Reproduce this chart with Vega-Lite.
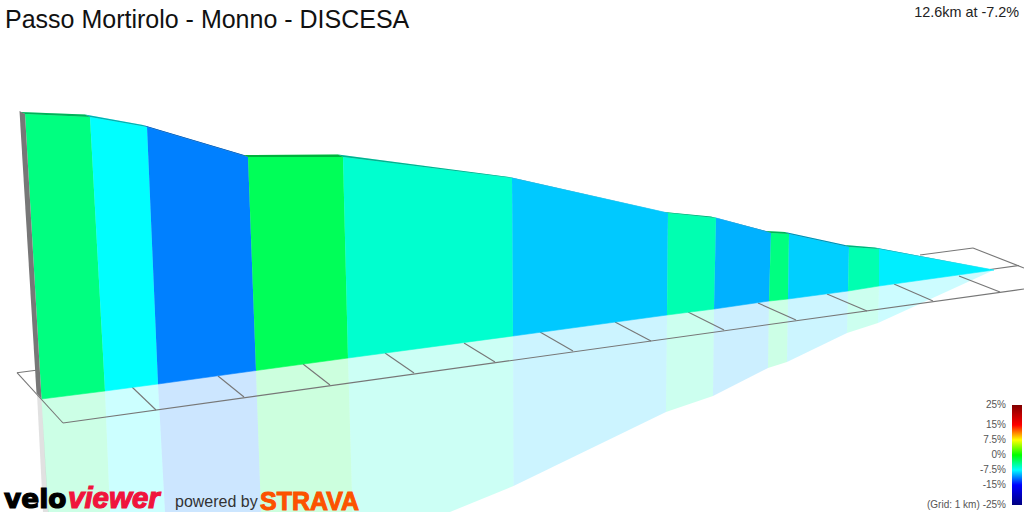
{"$schema":"https://vega.github.io/schema/vega-lite/v6.json","width":1024,"height":512,"padding":0,"autosize":{"type":"none"},"background":"white","view":{"stroke":null},
"title":{"text":"Passo Mortirolo - Monno - DISCESA","anchor":"start","frame":"group","offset":-33,"dx":5,"fontSize":25,"font":"Liberation Sans","fontWeight":"normal","color":"#111"},
"datasets":{
"wall":[
{"seg":0,"grade":-3.75,"i":0,"x":25,"y":114},{"seg":0,"grade":-3.75,"i":1,"x":90,"y":117},{"seg":0,"grade":-3.75,"i":2,"x":105,"y":391},{"seg":0,"grade":-3.75,"i":3,"x":41.5,"y":399},
{"seg":1,"grade":-7.5,"i":0,"x":90,"y":117},{"seg":1,"grade":-7.5,"i":1,"x":147,"y":127},{"seg":1,"grade":-7.5,"i":2,"x":158,"y":384},{"seg":1,"grade":-7.5,"i":3,"x":105,"y":391},
{"seg":2,"grade":-11.25,"i":0,"x":147,"y":127},{"seg":2,"grade":-11.25,"i":1,"x":248,"y":157},{"seg":2,"grade":-11.25,"i":2,"x":256,"y":370.5},{"seg":2,"grade":-11.25,"i":3,"x":158,"y":384},
{"seg":3,"grade":-2.6,"i":0,"x":248,"y":157},{"seg":3,"grade":-2.6,"i":1,"x":343,"y":157},{"seg":3,"grade":-2.6,"i":2,"x":348,"y":358},{"seg":3,"grade":-2.6,"i":3,"x":256,"y":370.5},
{"seg":4,"grade":-6.1,"i":0,"x":343,"y":157},{"seg":4,"grade":-6.1,"i":1,"x":512,"y":178},{"seg":4,"grade":-6.1,"i":2,"x":513,"y":336},{"seg":4,"grade":-6.1,"i":3,"x":348,"y":358},
{"seg":5,"grade":-9.1,"i":0,"x":512,"y":178},{"seg":5,"grade":-9.1,"i":1,"x":668,"y":213},{"seg":5,"grade":-9.1,"i":2,"x":667,"y":315},{"seg":5,"grade":-9.1,"i":3,"x":513,"y":336},
{"seg":6,"grade":-5.2,"i":0,"x":668,"y":213},{"seg":6,"grade":-5.2,"i":1,"x":716,"y":218},{"seg":6,"grade":-5.2,"i":2,"x":714,"y":309},{"seg":6,"grade":-5.2,"i":3,"x":667,"y":315},
{"seg":7,"grade":-9.8,"i":0,"x":716,"y":218},{"seg":7,"grade":-9.8,"i":1,"x":771,"y":233},{"seg":7,"grade":-9.8,"i":2,"x":769,"y":301},{"seg":7,"grade":-9.8,"i":3,"x":714,"y":309},
{"seg":8,"grade":-3.75,"i":0,"x":771,"y":233},{"seg":8,"grade":-3.75,"i":1,"x":789,"y":234},{"seg":8,"grade":-3.75,"i":2,"x":788,"y":299},{"seg":8,"grade":-3.75,"i":3,"x":769,"y":301},
{"seg":9,"grade":-8.9,"i":0,"x":789,"y":234},{"seg":9,"grade":-8.9,"i":1,"x":849,"y":247},{"seg":9,"grade":-8.9,"i":2,"x":848,"y":291},{"seg":9,"grade":-8.9,"i":3,"x":788,"y":299},
{"seg":10,"grade":-5.2,"i":0,"x":849,"y":247},{"seg":10,"grade":-5.2,"i":1,"x":879,"y":249},{"seg":10,"grade":-5.2,"i":2,"x":879,"y":286},{"seg":10,"grade":-5.2,"i":3,"x":848,"y":291},
{"seg":11,"grade":-8,"i":0,"x":879,"y":249},{"seg":11,"grade":-8,"i":1,"x":994,"y":270},{"seg":11,"grade":-8,"i":2,"x":879,"y":286}],
"strip":[
{"seg":0,"grade":-3.75,"i":0,"x":20,"y":112},{"seg":0,"grade":-3.75,"i":1,"x":85,"y":114.5},{"seg":0,"grade":-3.75,"i":2,"x":90,"y":117},{"seg":0,"grade":-3.75,"i":3,"x":25,"y":114},
{"seg":1,"grade":-7.5,"i":0,"x":85,"y":114.5},{"seg":1,"grade":-7.5,"i":1,"x":143,"y":125},{"seg":1,"grade":-7.5,"i":2,"x":147,"y":127},{"seg":1,"grade":-7.5,"i":3,"x":90,"y":117},
{"seg":2,"grade":-11.25,"i":0,"x":143,"y":125},{"seg":2,"grade":-11.25,"i":1,"x":244,"y":155},{"seg":2,"grade":-11.25,"i":2,"x":248,"y":157},{"seg":2,"grade":-11.25,"i":3,"x":147,"y":127},
{"seg":3,"grade":-2.6,"i":0,"x":244,"y":155},{"seg":3,"grade":-2.6,"i":1,"x":338,"y":154.5},{"seg":3,"grade":-2.6,"i":2,"x":343,"y":157},{"seg":3,"grade":-2.6,"i":3,"x":248,"y":157},
{"seg":4,"grade":-6.1,"i":0,"x":338,"y":154.5},{"seg":4,"grade":-6.1,"i":1,"x":509,"y":177},{"seg":4,"grade":-6.1,"i":2,"x":512,"y":178},{"seg":4,"grade":-6.1,"i":3,"x":343,"y":157},
{"seg":5,"grade":-9.1,"i":0,"x":509,"y":177},{"seg":5,"grade":-9.1,"i":1,"x":664,"y":212},{"seg":5,"grade":-9.1,"i":2,"x":668,"y":213},{"seg":5,"grade":-9.1,"i":3,"x":512,"y":178},
{"seg":6,"grade":-5.2,"i":0,"x":664,"y":212},{"seg":6,"grade":-5.2,"i":1,"x":711,"y":216.5},{"seg":6,"grade":-5.2,"i":2,"x":716,"y":218},{"seg":6,"grade":-5.2,"i":3,"x":668,"y":213},
{"seg":7,"grade":-9.8,"i":0,"x":711,"y":216.5},{"seg":7,"grade":-9.8,"i":1,"x":766,"y":231},{"seg":7,"grade":-9.8,"i":2,"x":771,"y":233},{"seg":7,"grade":-9.8,"i":3,"x":716,"y":218},
{"seg":8,"grade":-3.75,"i":0,"x":766,"y":231},{"seg":8,"grade":-3.75,"i":1,"x":785,"y":232},{"seg":8,"grade":-3.75,"i":2,"x":789,"y":234},{"seg":8,"grade":-3.75,"i":3,"x":771,"y":233},
{"seg":9,"grade":-8.9,"i":0,"x":785,"y":232},{"seg":9,"grade":-8.9,"i":1,"x":845,"y":245},{"seg":9,"grade":-8.9,"i":2,"x":849,"y":247},{"seg":9,"grade":-8.9,"i":3,"x":789,"y":234},
{"seg":10,"grade":-5.2,"i":0,"x":845,"y":245},{"seg":10,"grade":-5.2,"i":1,"x":875,"y":247.5},{"seg":10,"grade":-5.2,"i":2,"x":879,"y":249},{"seg":10,"grade":-5.2,"i":3,"x":849,"y":247},
{"seg":11,"grade":-8,"i":0,"x":875,"y":247.5},{"seg":11,"grade":-8,"i":1,"x":994,"y":270},{"seg":11,"grade":-8,"i":2,"x":879,"y":249}],
"shadow":[
{"seg":0,"grade":-3.75,"i":0,"x":41.5,"y":399},{"seg":0,"grade":-3.75,"i":1,"x":105,"y":391},{"seg":0,"grade":-3.75,"i":2,"x":110,"y":512},{"seg":0,"grade":-3.75,"i":3,"x":48,"y":512},
{"seg":1,"grade":-7.5,"i":0,"x":105,"y":391},{"seg":1,"grade":-7.5,"i":1,"x":158,"y":384},{"seg":1,"grade":-7.5,"i":2,"x":165,"y":512},{"seg":1,"grade":-7.5,"i":3,"x":110,"y":512},
{"seg":2,"grade":-11.25,"i":0,"x":158,"y":384},{"seg":2,"grade":-11.25,"i":1,"x":256,"y":370.5},{"seg":2,"grade":-11.25,"i":2,"x":261,"y":512},{"seg":2,"grade":-11.25,"i":3,"x":165,"y":512},
{"seg":3,"grade":-2.6,"i":0,"x":256,"y":370.5},{"seg":3,"grade":-2.6,"i":1,"x":348,"y":358},{"seg":3,"grade":-2.6,"i":2,"x":352.5,"y":512},{"seg":3,"grade":-2.6,"i":3,"x":261,"y":512},
{"seg":4,"grade":-6.1,"i":0,"x":348,"y":358},{"seg":4,"grade":-6.1,"i":1,"x":513,"y":336},{"seg":4,"grade":-6.1,"i":2,"x":513.5,"y":486},{"seg":4,"grade":-6.1,"i":3,"x":450,"y":512},{"seg":4,"grade":-6.1,"i":4,"x":352.5,"y":512},
{"seg":5,"grade":-9.1,"i":0,"x":513,"y":336},{"seg":5,"grade":-9.1,"i":1,"x":667,"y":315},{"seg":5,"grade":-9.1,"i":2,"x":666,"y":412},{"seg":5,"grade":-9.1,"i":3,"x":513.5,"y":486},
{"seg":6,"grade":-5.2,"i":0,"x":667,"y":315},{"seg":6,"grade":-5.2,"i":1,"x":714,"y":309},{"seg":6,"grade":-5.2,"i":2,"x":713,"y":396},{"seg":6,"grade":-5.2,"i":3,"x":666,"y":412},
{"seg":7,"grade":-9.8,"i":0,"x":714,"y":309},{"seg":7,"grade":-9.8,"i":1,"x":769,"y":301},{"seg":7,"grade":-9.8,"i":2,"x":768,"y":368},{"seg":7,"grade":-9.8,"i":3,"x":713,"y":396},
{"seg":8,"grade":-3.75,"i":0,"x":769,"y":301},{"seg":8,"grade":-3.75,"i":1,"x":788,"y":299},{"seg":8,"grade":-3.75,"i":2,"x":787,"y":362},{"seg":8,"grade":-3.75,"i":3,"x":768,"y":368},
{"seg":9,"grade":-8.9,"i":0,"x":788,"y":299},{"seg":9,"grade":-8.9,"i":1,"x":848,"y":291},{"seg":9,"grade":-8.9,"i":2,"x":847,"y":333},{"seg":9,"grade":-8.9,"i":3,"x":787,"y":362},
{"seg":10,"grade":-5.2,"i":0,"x":848,"y":291},{"seg":10,"grade":-5.2,"i":1,"x":879,"y":286},{"seg":10,"grade":-5.2,"i":2,"x":878,"y":323},{"seg":10,"grade":-5.2,"i":3,"x":847,"y":333},
{"seg":11,"grade":-8,"i":0,"x":879,"y":286},{"seg":11,"grade":-8,"i":1,"x":994,"y":270},{"seg":11,"grade":-8,"i":2,"x":878,"y":323}],
"grid":[
{"x":17,"y":372.7,"x2":63,"y2":423},{"x":17,"y":372.7,"x2":38,"y2":370},{"x":63,"y":423,"x2":1024,"y2":289},
{"x":132,"y":387,"x2":156,"y2":410},{"x":218,"y":376,"x2":244,"y2":397},{"x":303,"y":364,"x2":330,"y2":385},{"x":385,"y":353,"x2":414,"y2":373},{"x":464,"y":343,"x2":495,"y2":362},{"x":540,"y":332,"x2":573,"y2":351},{"x":615,"y":322,"x2":651,"y2":341},{"x":688,"y":312,"x2":724,"y2":330},{"x":758,"y":303,"x2":796,"y2":320},{"x":827,"y":294,"x2":867,"y2":311},{"x":894,"y":284,"x2":933,"y2":301},{"x":959,"y":276,"x2":1000,"y2":292},
{"x":920,"y":255,"x2":973,"y2":248},{"x":973,"y":248,"x2":1024,"y2":268},{"x":990,"y":269.5,"x2":1019,"y2":265.5}],
"edge":[
{"part":"side","i":0,"x":19.5,"y":111},{"part":"side","i":1,"x":25,"y":114},{"part":"side","i":2,"x":41.5,"y":399},{"part":"side","i":3,"x":36.5,"y":393}],
"edgeShadow":[
{"part":"side","i":0,"x":37,"y":394},{"part":"side","i":1,"x":41.5,"y":399},{"part":"side","i":2,"x":48.5,"y":512},{"part":"side","i":3,"x":43,"y":512}]
},
"encoding":{"x":{"field":"x","type":"quantitative","scale":{"domain":[0,1024],"nice":false,"zero":false},"axis":null},"y":{"field":"y","type":"quantitative","scale":{"domain":[512,0],"nice":false,"zero":false},"axis":null}},
"layer":[
{"data":{"name":"shadow"},"mark":{"type":"line","filled":true,"opacity":0.2,"clip":true},"encoding":{"detail":{"field":"seg"},"order":{"field":"i"},"color":{"field":"grade","type":"quantitative","scale":{"interpolate":"rgb","domain":[-25,-15,-7.5,0,7.5,15,25],"range":["#000080","#0000ff","#00ffff","#00ff00","#ffff00","#ff0000","#800000"]},"legend":null}}},
{"data":{"name":"edgeShadow"},"mark":{"type":"line","filled":true,"color":"#777777","opacity":0.22,"clip":true},"encoding":{"detail":{"field":"part"},"order":{"field":"i"}}},
{"data":{"name":"grid"},"mark":{"type":"rule","color":"#777777","strokeWidth":1.1,"clip":true},"encoding":{"x2":{"field":"x2"},"y2":{"field":"y2"}}},
{"data":{"name":"wall"},"mark":{"type":"line","filled":true,"clip":true,"strokeWidth":0.6},"encoding":{"detail":{"field":"seg"},"order":{"field":"i"},"color":{"field":"grade","type":"quantitative","scale":{"interpolate":"rgb","domain":[-25,-15,-7.5,0,7.5,15,25],"range":["#000080","#0000ff","#00ffff","#00ff00","#ffff00","#ff0000","#800000"]},"legend":null},"stroke":{"field":"grade","type":"quantitative","scale":{"interpolate":"rgb","domain":[-25,-15,-7.5,0,7.5,15,25],"range":["#000080","#0000ff","#00ffff","#00ff00","#ffff00","#ff0000","#800000"]},"legend":null}}},
{"data":{"name":"strip"},"mark":{"type":"line","filled":true,"clip":true},"encoding":{"detail":{"field":"seg"},"order":{"field":"i"},"color":{"field":"grade","type":"quantitative","scale":{"interpolate":"rgb","domain":[-25,-15,-7.5,0,7.5,15,25],"range":["#000080","#0000ff","#00ffff","#00ff00","#ffff00","#ff0000","#800000"]},"legend":null}}},
{"data":{"name":"strip"},"mark":{"type":"line","filled":true,"color":"#000000","opacity":0.3,"clip":true},"encoding":{"detail":{"field":"seg"},"order":{"field":"i"}}},
{"data":{"name":"edge"},"mark":{"type":"line","filled":true,"color":"#777777","clip":true},"encoding":{"detail":{"field":"part"},"order":{"field":"i"}}},
{"data":{"values":[{"x":1012,"x2":1022,"y":405,"y2":505}]},"mark":{"type":"rect","color":{"gradient":"linear","x1":0,"y1":0,"x2":0,"y2":1,"stops":[{"offset":0,"color":"#800000"},{"offset":0.2,"color":"#ff0000"},{"offset":0.35,"color":"#ffff00"},{"offset":0.5,"color":"#00ff00"},{"offset":0.65,"color":"#00ffff"},{"offset":0.8,"color":"#0000ff"},{"offset":1,"color":"#000080"}]}},"encoding":{"x2":{"field":"x2"},"y2":{"field":"y2"}}},
{"data":{"values":[{"label":"25%","x":1006,"y":404.7},{"label":"15%","x":1006,"y":425},{"label":"7.5%","x":1006,"y":439.5},{"label":"0%","x":1006,"y":454.5},{"label":"-7.5%","x":1006,"y":470},{"label":"-15%","x":1006,"y":484.5},{"label":"-25%","x":1006,"y":504.5}]},"mark":{"type":"text","align":"right","baseline":"middle","font":"Liberation Sans","fontSize":10,"color":"#555555"},"encoding":{"text":{"field":"label"}}},
{"data":{"values":[{"label":"12.6km at -7.2%","x":1019,"y":13}]},"mark":{"type":"text","align":"right","baseline":"middle","font":"Liberation Sans","fontSize":14.4,"color":"#222222"},"encoding":{"text":{"field":"label"}}},
{"data":{"values":[{"label":"(Grid: 1 km)","x":927,"y":504.5}]},"mark":{"type":"text","align":"left","baseline":"middle","font":"Liberation Sans","fontSize":10,"color":"#555555"},"encoding":{"text":{"field":"label"}}},
{"data":{"values":[{"label":"velo","x":4,"y":508}]},"mark":{"type":"text","align":"left","baseline":"alphabetic","font":"DejaVu Sans","fontWeight":"bold","fontSize":26.5,"color":"#000000","stroke":"#000000","strokeWidth":1.2},"encoding":{"text":{"field":"label"}}},
{"data":{"values":[{"label":"viewer","x":68,"y":508}]},"mark":{"type":"text","align":"left","baseline":"alphabetic","font":"Liberation Sans","fontWeight":"bold","fontStyle":"italic","fontSize":29.5,"color":"#f0143c","stroke":"#f0143c","strokeWidth":1.2},"encoding":{"text":{"field":"label"}}},
{"data":{"values":[{"label":"powered by","x":175,"y":507}]},"mark":{"type":"text","align":"left","baseline":"alphabetic","font":"Liberation Sans","fontSize":16,"color":"#333333"},"encoding":{"text":{"field":"label"}}},
{"data":{"values":[{"label":"STRAVA","x":260,"y":510}]},"mark":{"type":"text","align":"left","baseline":"alphabetic","font":"Liberation Sans","fontWeight":"bold","fontSize":25,"color":"#fc5200","stroke":"#fc5200","strokeWidth":1},"encoding":{"text":{"field":"label"}}}
]}
